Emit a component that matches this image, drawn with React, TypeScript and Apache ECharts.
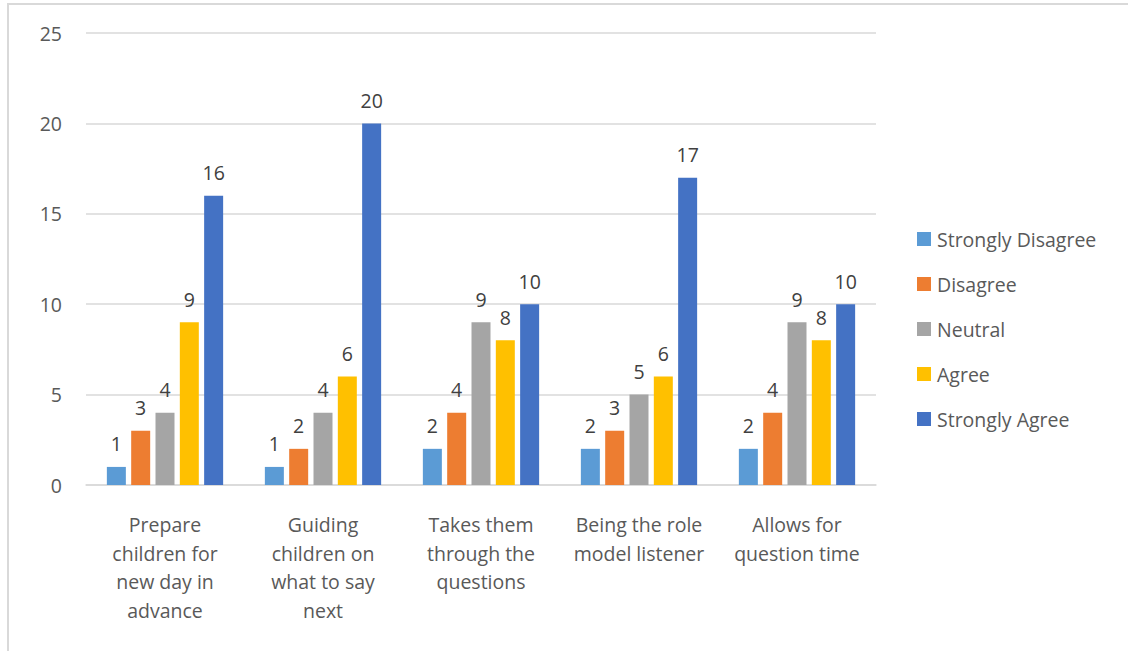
import React, { useEffect, useRef } from "react";
import * as echarts from "echarts";

const categories = [
  "Prepare\nchildren for\nnew day in\nadvance",
  "Guiding\nchildren on\nwhat to say\nnext",
  "Takes them\nthrough the\nquestions",
  "Being the role\nmodel listener",
  "Allows for\nquestion time",
];
const seriesNames = ["Strongly Disagree", "Disagree", "Neutral", "Agree", "Strongly Agree"];
const stronglyDisagree = [1, 1, 2, 2, 2];
const disagree = [3, 2, 4, 3, 4];
const neutral = [4, 4, 9, 5, 9];
const agree = [9, 6, 8, 6, 8];
const stronglyAgree = [16, 20, 10, 17, 10];
const colors = ["#5B9BD5", "#ED7D31", "#A5A5A5", "#FFC000", "#4472C4"];

const FONT = "'Open Sans', 'Noto Sans', sans-serif";

export default function App() {
  const ref = useRef<HTMLDivElement>(null);
  useEffect(() => {
    const chart = echarts.init(ref.current!, null, { renderer: "svg" });
    const values = [stronglyDisagree, disagree, neutral, agree, stronglyAgree];
    chart.setOption({
      animation: false,
      color: colors,
      graphic: [
        {
          type: "polyline",
          shape: { points: [[8, 651], [8, 4], [1130, 4]] },
          style: { stroke: "#d9d9d9", lineWidth: 2, fill: null },
          silent: true,
        },
      ],
      grid: { left: 86, right: 252, top: 33, bottom: 166, containLabel: false },
      legend: {
        orient: "vertical",
        left: 912,
        top: 224,
        itemWidth: 14,
        itemHeight: 14,
        itemGap: 25,
        icon: "rect",
        textStyle: {
          fontFamily: FONT,
          fontSize: 19.5,
          lineHeight: 20,
          color: "#595959",
          padding: [0, 0, 0, 1],
        },
        data: seriesNames,
      },
      xAxis: {
        type: "category",
        data: categories,
        axisLine: { lineStyle: { color: "#d9d9d9", width: 1.5 } },
        axisTick: { show: false },
        axisLabel: {
          fontFamily: FONT,
          fontSize: 19.5,
          color: "#595959",
          lineHeight: 28.7,
          margin: 25,
          interval: 0,
        },
      },
      yAxis: {
        type: "value",
        min: 0,
        max: 25,
        interval: 5,
        axisLine: { show: false },
        axisTick: { show: false },
        splitLine: { lineStyle: { color: "#d9d9d9", width: 1.5 } },
        axisLabel: { fontFamily: FONT, fontSize: 19.5, color: "#595959", margin: 24 },
      },
      series: seriesNames.map((name, i) => ({
        name,
        type: "bar",
        data: values[i],
        barWidth: 19,
        barGap: "28%",
        label: {
          show: true,
          position: "top",
          distance: 13,
          fontFamily: FONT,
          fontSize: 19.5,
          color: "#404040",
        },
      })),
    });
    return () => chart.dispose();
  }, []);
  return (
    <div
      ref={ref}
      style={{ position: "absolute", left: 0, top: 0, width: 1128, height: 651, background: "#fff" }}
    />
  );
}
